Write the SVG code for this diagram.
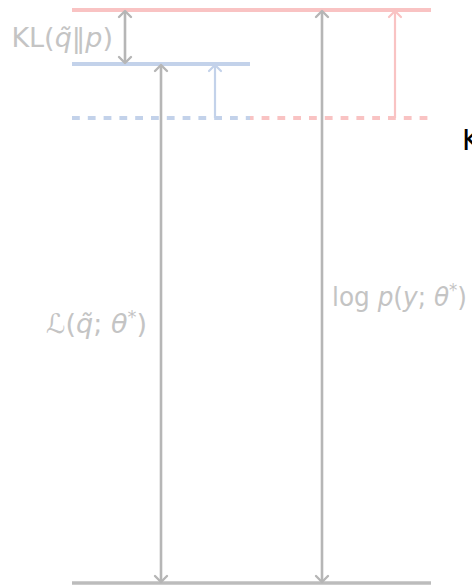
<svg xmlns="http://www.w3.org/2000/svg" width="472" height="587" viewBox="0 0 472 587">
<style>
.lbl{font-family:"DejaVu Sans",sans-serif;font-size:27px;fill:#c4c4c4}
.it{font-style:italic}
.ga{stroke:#b6b6b6;stroke-width:2.6;fill:none}
.ra{stroke:#f9c3c3;stroke-width:2.2;fill:none}
.ba{stroke:#c3d2ea;stroke-width:2.2;fill:none}
</style>
<defs>
<marker id="hg" markerUnits="userSpaceOnUse" viewBox="-8 -8 10 16" markerWidth="10" markerHeight="16" refX="0" refY="0" orient="auto-start-reverse"><path d="M-6,-6 L0,0 L-6,6" fill="none" stroke="#b6b6b6" stroke-width="2.4" stroke-linecap="round" stroke-linejoin="round"/></marker>
<marker id="hr" markerUnits="userSpaceOnUse" viewBox="-8 -8 10 16" markerWidth="10" markerHeight="16" refX="0" refY="0" orient="auto-start-reverse"><path d="M-6,-6 L0,0 L-6,6" fill="none" stroke="#f9c3c3" stroke-width="2.2" stroke-linecap="round" stroke-linejoin="round"/></marker>
<marker id="hb" markerUnits="userSpaceOnUse" viewBox="-8 -8 10 16" markerWidth="10" markerHeight="16" refX="0" refY="0" orient="auto-start-reverse"><path d="M-6,-6 L0,0 L-6,6" fill="none" stroke="#c3d2ea" stroke-width="2.2" stroke-linecap="round" stroke-linejoin="round"/></marker>
</defs>
<g id="levels">
<g id="level-logp"><line x1="72" y1="10" x2="431" y2="10" stroke="#f9c3c3" stroke-width="4"/></g>
<g id="level-elbo"><line x1="72" y1="64" x2="250" y2="64" stroke="#c3d2ea" stroke-width="4"/></g>
<g id="level-old"><line x1="72" y1="118" x2="250" y2="118" stroke="#c3d2ea" stroke-width="4" stroke-dasharray="7.8 8"/><line x1="250" y1="118" x2="431" y2="118" stroke="#f9c3c3" stroke-width="4" stroke-dasharray="7.8 8" stroke-dashoffset="4.2"/></g>
<g id="level-zero"><line x1="72" y1="583" x2="431" y2="583" stroke="#bcbcbc" stroke-width="3.5"/></g>
</g>
<g id="connectors">
<line class="ga" x1="125" y1="11" x2="125" y2="63" marker-start="url(#hg)" marker-end="url(#hg)"/>
<line class="ga" x1="161" y1="65" x2="161" y2="582" marker-start="url(#hg)" marker-end="url(#hg)"/>
<line class="ga" x1="322" y1="11" x2="322" y2="582" marker-start="url(#hg)" marker-end="url(#hg)"/>
<line class="ba" x1="215" y1="118" x2="215" y2="65" marker-end="url(#hb)"/>
<line class="ra" x1="395" y1="118" x2="395" y2="11" marker-end="url(#hr)"/>
</g>
<g id="labels">
<text class="lbl" x="113" y="47" text-anchor="end">KL(<tspan class="it">q̃</tspan>‖<tspan class="it">p</tspan>)</text>
<text class="lbl" x="147" y="333" text-anchor="end">ℒ(<tspan class="it">q̃</tspan>; <tspan class="it">θ</tspan><tspan font-size="18" dy="-10">*</tspan><tspan dy="10">)</tspan></text>
<text class="lbl" x="332" y="306" textLength="135" lengthAdjust="spacingAndGlyphs">log <tspan class="it">p</tspan>(<tspan class="it">y</tspan>; <tspan class="it">θ</tspan><tspan font-size="18" dy="-10">*</tspan><tspan dy="10">)</tspan></text>
<text x="462" y="150" font-family="DejaVu Sans,sans-serif" font-size="28" fill="#000">K</text>
</g>
</svg>
